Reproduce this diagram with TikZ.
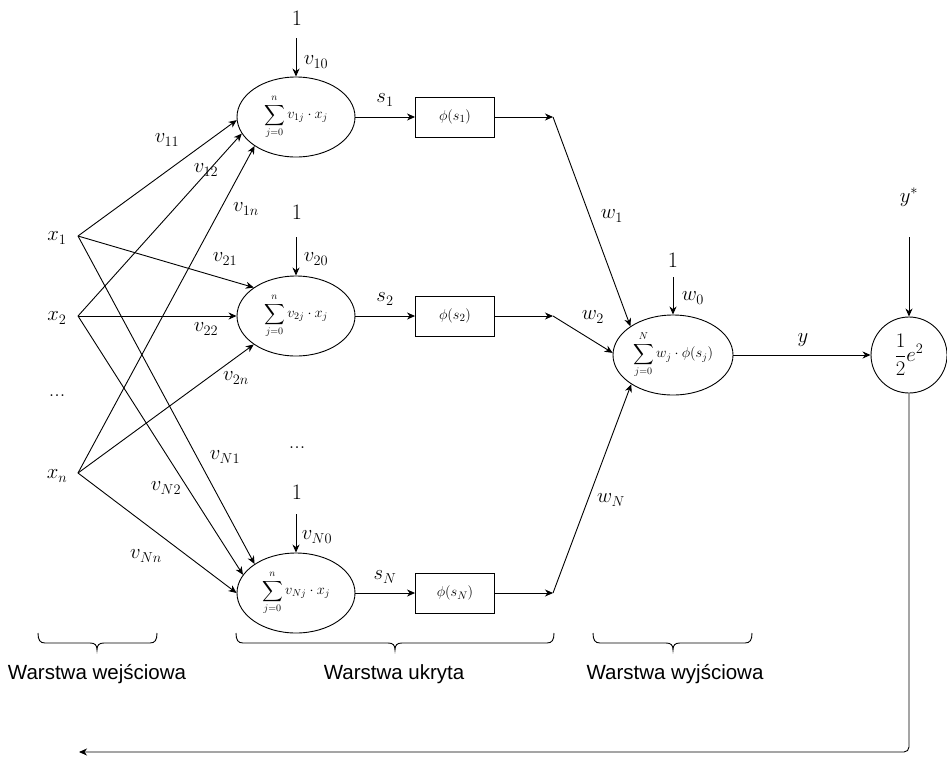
\documentclass[tikz,border=0pt]{standalone}
\usepackage{amsmath}
\usepackage{fontspec}
\newfontfamily\labelfont{Liberation Sans}
\usetikzlibrary{shapes.geometric,arrows.meta}
\begin{document}
\begin{tikzpicture}[x=1pt,y=-1pt,
  line width=0.9pt,
  arr/.style={-{Stealth[length=8pt,width=7pt,inset=2.5pt]}},
  lbl/.style={inner sep=0pt, font=\fontsize{22}{26}\selectfont},
  neuron/.style={draw, ellipse, minimum width=118pt, minimum height=80pt, inner sep=0pt, font=\fontsize{14}{17}\selectfont},
  actbox/.style={draw, rectangle, minimum width=79pt, minimum height=40pt, inner sep=0pt, font=\fontsize{15}{17}\selectfont},
  layer/.style={anchor=base, inner sep=0pt, font=\labelfont\fontsize{20.5}{24}\selectfont},
  brc/.style={line width=0.9pt}
]
\useasboundingbox (0,0) rectangle (947,756);

% inputs
\node[lbl] (x1) at (57,238) {$x_1$};
\node[lbl] (x2) at (57,318) {$x_2$};
\node[lbl] (xd) at (57,396) {...};
\node[lbl] (xn) at (57,476) {$x_n$};
\coordinate (p1) at (78,236);
\coordinate (p2) at (78,316);
\coordinate (pn) at (78,473);

% hidden neurons
\node[neuron] (h1) at (296,117) {$\displaystyle\sum_{j=0}^{n} v_{1j}\cdot x_j$};
\node[neuron] (h2) at (296,316) {$\displaystyle\sum_{j=0}^{n} v_{2j}\cdot x_j$};
\node[neuron] (hN) at (296,593) {$\displaystyle\sum_{j=0}^{n} v_{Nj}\cdot x_j$};
\node[lbl] (hd) at (297,448) {...};

% activation boxes
\node[actbox] (f1) at (455,117) {$\phi(s_1)$};
\node[actbox] (f2) at (455,316) {$\phi(s_2)$};
\node[actbox] (fN) at (455,593) {$\phi(s_N)$};
\coordinate (c1) at (553,117);
\coordinate (c2) at (553,316);
\coordinate (cN) at (553,593);

% output neuron and error
\node[neuron, minimum width=120pt] (out) at (673,355) {$\displaystyle\sum_{j=0}^{N} w_j\cdot\phi(s_j)$};
\node[draw, circle, minimum size=76pt, inner sep=0pt, font=\fontsize{22}{26}\selectfont] (err) at (909,355) {$\displaystyle\frac{1}{2}e^2$};

% biases
\node[lbl] (one1) at (297,18) {1};
\node[lbl] (one2) at (297,212) {1};
\node[lbl] (oneN) at (297,492) {1};
\node[lbl] (oneo) at (673,260) {1};
\coordinate (b1) at (296,38);
\coordinate (b2) at (296,237);
\coordinate (bN) at (296,514);
\coordinate (bo) at (673,277);
\draw[arr] (b1) -- (h1.north);
\draw[arr] (b2) -- (h2.north);
\draw[arr] (bN) -- (hN.north);
\draw[arr] (bo) -- (out.north);
\node[lbl] (lv10) at (316,62) {$v_{10}$};
\node[lbl] (lv20) at (316,259) {$v_{20}$};
\node[lbl] (lvN0) at (317,537) {$v_{N0}$};
\node[lbl] (lw0) at (693,298) {$w_0$};

% input connections
\draw[arr] (p1) -- (h1.183);
\draw[arr] (p1) -- (h2.146);
\draw[arr] (p1) -- (hN.145);
\draw[arr] (p2) -- (h1.197);
\draw[arr] (p2) -- (h2.180);
\draw[arr] (p2) -- (hN.161);
\draw[arr] (pn) -- (h1.215);
\draw[arr] (pn) -- (h2.214);
\draw[arr] (pn) -- (hN.180);

\node[lbl] (lv11) at (167,140) {$v_{11}$};
\node[lbl] (lv12) at (206,170) {$v_{12}$};
\node[lbl] (lv1n) at (246,209) {$v_{1n}$};
\node[lbl] (lv21) at (225,259) {$v_{21}$};
\node[lbl] (lv22) at (206,329) {$v_{22}$};
\node[lbl] (lv2n) at (236,378) {$v_{2n}$};
\node[lbl] (lvN1) at (225,457) {$v_{N1}$};
\node[lbl] (lvN2) at (166,488) {$v_{N2}$};
\node[lbl] (lvNn) at (146,556) {$v_{Nn}$};

% hidden to activation
\draw[arr] (h1.east) -- (f1.west);
\draw[arr] (h2.east) -- (f2.west);
\draw[arr] (hN.east) -- (fN.west);
\node[lbl] (ls1) at (385,100) {$s_1$};
\node[lbl] (ls2) at (385,299) {$s_2$};
\node[lbl] (lsN) at (385,577) {$s_N$};

\draw[arr] (f1.east) -- (c1);
\draw[arr] (f2.east) -- (c2);
\draw[arr] (fN.east) -- (cN);

% to output
\draw[arr] (c1) -- (out.146);
\draw[arr] (c2) -- (out.178);
\draw[arr] (cN) -- (out.215);
\node[lbl] (lw1) at (612,216) {$w_1$};
\node[lbl] (lw2) at (593,317) {$w_2$};
\node[lbl] (lwN) at (611,500) {$w_N$};

% output to error
\draw[arr] (out.east) -- (err.west);
\node[lbl] (ly) at (803,340) {$y$};
\node[lbl] (lys) at (909,197) {$y^{*}$};
\coordinate (ys) at (909,237);
\draw[arr] (ys) -- (err.north);

% feedback
\coordinate (fb) at (79,752);
\draw[arr, rounded corners=5pt] (err.south) |- (fb);

% braces
\draw[brc] (38,633) .. controls (38,640) and (40,643) .. (45,643) -- (90,643)
  .. controls (95,643) and (97,645) .. (97,650)
  .. controls (97,645) and (99,643) .. (104,643) -- (150,643)
  .. controls (155,643) and (157,640) .. (157,633);
\draw[brc] (236,633) .. controls (236,640) and (238,643) .. (243,643) -- (388,643)
  .. controls (393,643) and (395,645) .. (395,650)
  .. controls (395,645) and (397,643) .. (402,643) -- (547,643)
  .. controls (552,643) and (554,640) .. (554,633);
\draw[brc] (593,633) .. controls (593,640) and (595,643) .. (600,643) -- (666,643)
  .. controls (671,643) and (673,645) .. (673,650)
  .. controls (673,645) and (675,643) .. (680,643) -- (745,643)
  .. controls (750,643) and (752,640) .. (752,633);

\node[layer] (L1) at (97,679) {Warstwa wejściowa};
\node[layer] (L2) at (394,679) {Warstwa ukryta};
\node[layer] (L3) at (675,679) {Warstwa wyjściowa};
\end{tikzpicture}
\end{document}
